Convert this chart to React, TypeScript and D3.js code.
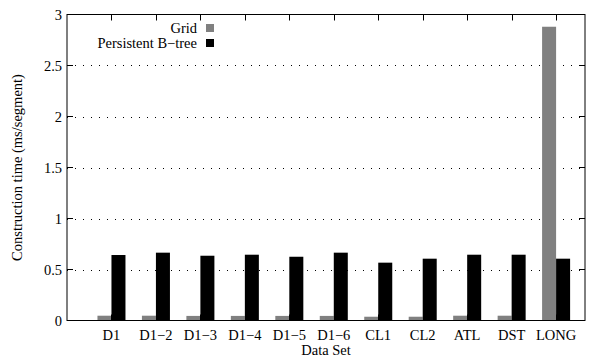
import React from "react";
import * as d3 from "d3";

const categories = ["D1", "D1\u22122", "D1\u22123", "D1\u22124", "D1\u22125", "D1\u22126", "CL1", "CL2", "ATL", "DST", "LONG"];
const gridValues = [0.047, 0.047, 0.045, 0.045, 0.045, 0.045, 0.037, 0.037, 0.047, 0.047, 2.88];
const btreeValues = [0.642, 0.665, 0.635, 0.645, 0.625, 0.665, 0.567, 0.606, 0.645, 0.645, 0.606];
const yTicks = [0, 0.5, 1, 1.5, 2, 2.5, 3];
const seriesNames = ["Grid", "Persistent B\u2212tree"];

const W = 590, H = 358;
const L = 67, R = 585, T = 14.5, B = 320.5;
const FONT = "'Liberation Serif', 'Times New Roman', Times, serif";
const FS = 14.5;

export default function App() {
  const x = d3.scaleLinear().domain([-1, 10.65]).range([L, R]);
  const y = d3.scaleLinear().domain([0, 3]).range([B, T]);
  const bw = x(0.315) - x(0);
  const tick = 6;
  return (
    <svg width={W} height={H} style={{ position: "absolute", left: 0, top: 0 }} fontFamily={FONT}>
      <rect x={0} y={0} width={W} height={H} fill="#fff" />
      {/* grid */}
      {yTicks.filter(v => v > 0 && v < 3).map(v => (
        <line key={"g" + v} x1={L} x2={R} y1={Math.round(y(v)) + 0.5} y2={Math.round(y(v)) + 0.5}
          stroke="#000" strokeWidth={1} strokeDasharray="1,7" />
      ))}
      {/* bars */}
      {categories.map((c, i) => (
        <g key={c}>
          <rect x={x(i) - bw} y={y(gridValues[i])} width={bw} height={y(0) - y(gridValues[i])} fill="#808080" />
          <rect x={x(i)} y={y(btreeValues[i])} width={bw} height={y(0) - y(btreeValues[i])} fill="#000" />
        </g>
      ))}
      {/* y ticks */}
      {yTicks.map(v => (
        <g key={"t" + v}>
          <line x1={L} x2={L + tick} y1={y(v)} y2={y(v)} stroke="#000" />
          <line x1={R} x2={R - tick} y1={y(v)} y2={y(v)} stroke="#000" />
          <text x={L - 5} y={y(v)} dy="0.35em" textAnchor="end" fontSize={FS}>{String(v)}</text>
        </g>
      ))}
      {/* x ticks */}
      {categories.map((c, i) => (
        <g key={"x" + c}>
          <line x1={Math.round(x(i)) + 0.5} x2={Math.round(x(i)) + 0.5} y1={T} y2={T + tick} stroke="#000" />
          <line x1={Math.round(x(i)) + 0.5} x2={Math.round(x(i)) + 0.5} y1={B} y2={B - tick} stroke="#000" />
          <text x={x(i)} y={340} textAnchor="middle" fontSize={FS}>{c}</text>
        </g>
      ))}
      {/* border */}
      <rect x={L} y={T} width={R - L} height={B - T} fill="none" stroke="#000" strokeWidth={1} />
      {/* legend */}
      <text x={197} y={28} dy="0.35em" textAnchor="end" fontSize={FS}>{seriesNames[0]}</text>
      <rect x={206} y={24} width={8} height={8} fill="#808080" />
      <text x={197} y={43} dy="0.35em" textAnchor="end" fontSize={FS}>{seriesNames[1]}</text>
      <rect x={206} y={39} width={8} height={8} fill="#000" />
      {/* axis titles */}
      <text transform={`translate(22,${(T + B) / 2}) rotate(-90)`} textAnchor="middle" fontSize={FS}>Construction time (ms/segment)</text>
      <text x={(L + R) / 2} y={355} textAnchor="middle" fontSize={FS}>Data Set</text>
    </svg>
  );
}
